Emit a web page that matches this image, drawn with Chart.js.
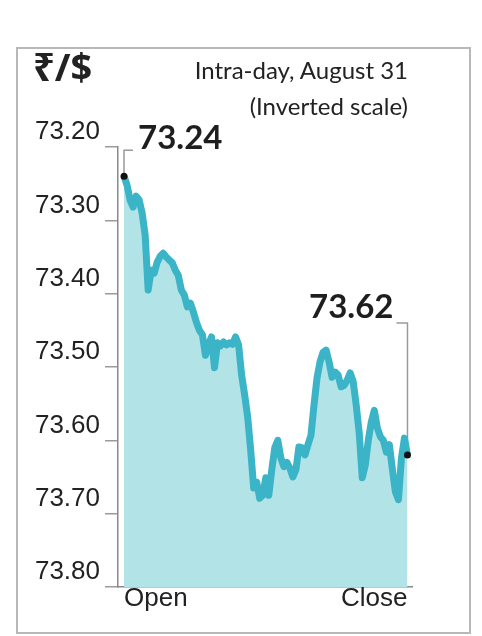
<!DOCTYPE html>
<html lang="en">
<head>
<meta charset="UTF-8">
<title>Rupee vs dollar, intra-day</title>
<script src="https://cdn.jsdelivr.net/npm/chart.js"></script>
<style>
  body { margin: 0; background: #fff; font-family: Lato, "Noto Sans", sans-serif; color: #222; }
  .wrap { position: relative; width: 482px; height: 636px; }
  .frame { position: absolute; left: 16px; top: 47px; width: 451px; height: 583px; border: 2px solid #b8b8b8; }
  .cur { position: absolute; left: 33px; top: 40px; font: bold 38px "Noto Sans", sans-serif; }
  .sub { position: absolute; right: 74px; font-size: 24px; line-height: 28px; }
  canvas { position: absolute; left: 0; top: 0; }
</style>
</head>
<body>
<div class="wrap">
  <div class="frame"></div>
  <canvas id="chart" width="482" height="636"></canvas>
  <div class="cur">₹/$</div>
  <div class="sub" style="top:56px">Intra-day, August 31</div>
  <div class="sub" style="top:92px">(Inverted scale)</div>
</div>

<script>
  // rupee per dollar through the day, open -> close
  const rates = [
    73.24, 73.252, 73.272, 73.282, 73.267, 73.272, 73.290, 73.320, 73.395, 73.368,
    73.372, 73.357, 73.349, 73.345, 73.350, 73.354, 73.358, 73.368, 73.375, 73.395,
    73.402, 73.418, 73.413, 73.425, 73.439, 73.450, 73.456, 73.484, 73.470, 73.459,
    73.501, 73.467, 73.471, 73.466, 73.470, 73.467, 73.469, 73.459, 73.470, 73.511,
    73.538, 73.568, 73.613, 73.665, 73.657, 73.679, 73.675, 73.651, 73.675, 73.640,
    73.610, 73.600, 73.624, 73.636, 73.630, 73.638, 73.650, 73.640, 73.609, 73.610,
    73.620, 73.606, 73.593, 73.552, 73.515, 73.493, 73.480, 73.477, 73.493, 73.514,
    73.507, 73.511, 73.527, 73.525, 73.518, 73.508, 73.520, 73.552, 73.590, 73.651,
    73.634, 73.600, 73.575, 73.559, 73.583, 73.595, 73.600, 73.616, 73.606, 73.640,
    73.670, 73.681, 73.624, 73.597, 73.62
  ];
  const xLabels = ["Open", "Close"];
  const yTicks = [73.2, 73.3, 73.4, 73.5, 73.6, 73.7, 73.8];

  const last = rates.length - 1;

  // brackets and bold value labels at open and close
  const callouts = {
    id: "callouts",
    beforeDatasetsDraw(chart) {
      const { ctx, scales: { x, y } } = chart;
      const x0 = x.getPixelForValue(0), y0 = y.getPixelForValue(rates[0]);
      const x1 = x.getPixelForValue(last), y1 = y.getPixelForValue(rates[last]);
      ctx.save();
      ctx.strokeStyle = "#9a9a9a";
      ctx.lineWidth = 1.5;
      ctx.beginPath();
      ctx.moveTo(x0, y0); ctx.lineTo(x0, y0 - 26); ctx.lineTo(x0 + 9, y0 - 26);
      ctx.moveTo(x1, y1); ctx.lineTo(x1, y1 - 132); ctx.lineTo(x1 - 11, y1 - 132);
      ctx.stroke();
      ctx.restore();
    },
    afterDatasetsDraw(chart) {
      const { ctx, scales: { x, y } } = chart;
      const x0 = x.getPixelForValue(0), y0 = y.getPixelForValue(rates[0]);
      const x1 = x.getPixelForValue(last), y1 = y.getPixelForValue(rates[last]);
      ctx.save();
      ctx.fillStyle = "#1e1e1e";
      ctx.font = 'bold 33px Lato, "Noto Sans", sans-serif';
      ctx.textBaseline = "middle";
      ctx.textAlign = "left";
      ctx.fillText(rates[0].toFixed(2), x0 + 14, y0 - 38);
      ctx.textAlign = "right";
      ctx.fillText(rates[last].toFixed(2), x1 - 14, y1 - 148);
      ctx.restore();
    }
  };

  const ctx = document.getElementById("chart").getContext("2d");
  new Chart(ctx, {
    type: "line",
    data: {
      datasets: [{
        data: rates.map((v, i) => ({ x: i, y: v })),
        borderColor: "#3ab4c6",
        borderWidth: 7,
        borderJoinStyle: "round",
        backgroundColor: "#b2e3e7",
        fill: "start",
        tension: 0,
        pointRadius: c => (c.dataIndex === 0 || c.dataIndex === last) ? 3.5 : 0,
        pointBackgroundColor: "#111",
        pointBorderWidth: 0
      }]
    },
    options: {
      responsive: false,
      animation: false,
      layout: { padding: { top: 147, right: 70, left: 0, bottom: 0 } },
      plugins: { legend: { display: false }, tooltip: { enabled: false } },
      scales: {
        x: {
          type: "linear",
          min: -2,
          max: rates.length + 0.5,
          afterBuildTicks: s => { s.ticks = [{ value: 0 }, { value: last }]; },
          afterFit: s => { s.height = 49; },
          ticks: {
            callback: (v, i) => xLabels[i],
            align: "inner",
            padding: -12,
            maxRotation: 0,
            color: "#222",
            font: { size: 26 }
          },
          grid: { display: false },
          border: { color: "#8a8a8a", width: 1.5 }
        },
        y: {
          reverse: true,
          min: 73.2,
          max: 73.8,
          afterBuildTicks: s => { s.ticks = yTicks.map(v => ({ value: v })); },
          afterFit: s => { s.width = 118; },
          ticks: {
            callback: v => v.toFixed(2),
            padding: 5,
            labelOffset: -15,
            color: "#222",
            font: { size: 26 }
          },
          grid: { drawOnChartArea: false, tickLength: 13, color: "#9a9a9a", lineWidth: 1.5 },
          border: { color: "#8a8a8a", width: 1.5 }
        }
      }
    },
    plugins: [callouts]
  });
</script>
</body>
</html>
